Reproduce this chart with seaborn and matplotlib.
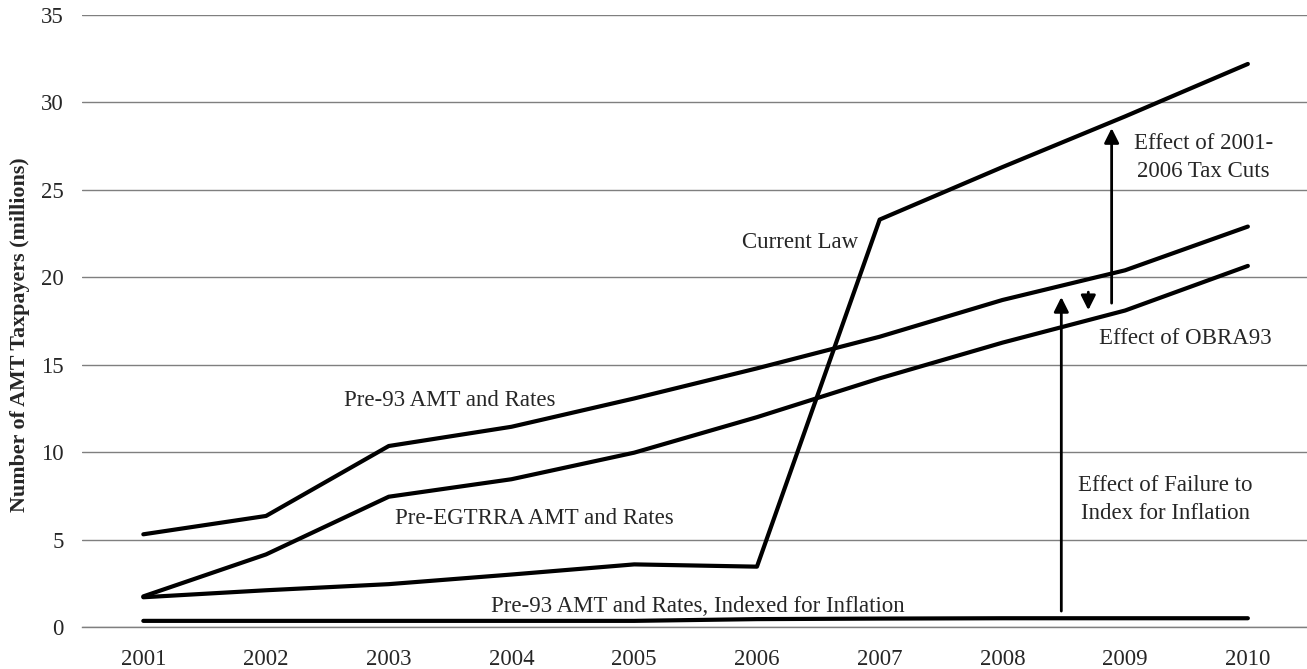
import numpy as np
import matplotlib
matplotlib.use("Agg")
import matplotlib.pyplot as plt
import seaborn as sns

# Dados (milhoes de contribuintes AMT)
years = [2001, 2002, 2003, 2004, 2005, 2006, 2007, 2008, 2009, 2010]
current_law = [1.70, 2.10, 2.45, 3.00, 3.58, 3.45, 23.3, 26.3, 29.2, 32.2]
pre93_rates = [5.30, 6.35, 10.35, 11.45, 13.07, 14.79, 16.6, 18.7, 20.4, 22.9]
pre_egtrra = [1.75, 4.15, 7.45, 8.45, 9.97, 12.0, 14.22, 16.26, 18.1, 20.65]
pre93_indexed = [0.35, 0.35, 0.35, 0.35, 0.35, 0.45, 0.48, 0.5, 0.5, 0.5]

sns.set_style("white")
plt.rcParams["font.family"] = ["Liberation Serif", "DejaVu Serif"]

fig = plt.figure(figsize=(13.07, 6.69), dpi=100)
ax = fig.add_axes([0.0627, 0.0628, 0.939, 0.9148])

x = np.arange(len(years))
for serie in [current_law, pre93_rates, pre_egtrra, pre93_indexed]:
    sns.lineplot(x=x, y=serie, color="black", linewidth=3, ax=ax)

# Eixos
ax.set_xlim(-0.5, len(years) - 0.5)
ax.set_ylim(0, 35)
ax.set_yticks(range(0, 36, 5))
ax.yaxis.grid(True, color="#7f7f7f", linewidth=1)
ax.set_axisbelow(True)
for s in ["top", "right", "left"]:
    ax.spines[s].set_visible(False)
ax.spines["bottom"].set_color("#7f7f7f")
ax.spines["bottom"].set_linewidth(1)

ax.set_xticks(np.arange(-0.5, len(years), 1.0))
ax.set_xticklabels([])
ax.set_xticks(x, minor=True)
ax.set_xticklabels([str(y) for y in years], minor=True)
ax.tick_params(axis="x", which="major", direction="out", length=5, color="#7f7f7f", width=1)
ax.tick_params(axis="x", which="minor", length=0, pad=16, labelsize=16.5)
ax.tick_params(axis="y", length=0, pad=13, labelsize=16.5)

ax.set_ylabel("Number of AMT Taxpayers (millions)", fontsize=15.8, fontweight="bold", va="center")
ax.yaxis.set_label_coords(-0.0505, 0.477)

# Rotulos das series
fs = 16.5
ax.text(5.35, 21.96, "Current Law", fontsize=fs, ha="center", va="center")
ax.text(2.50, 12.98, "Pre-93 AMT and Rates", fontsize=fs, ha="center", va="center")
ax.text(3.19, 6.23, "Pre-EGTRRA AMT and Rates", fontsize=fs, ha="center", va="center")
ax.text(4.52, 1.20, "Pre-93 AMT and Rates, Indexed for Inflation", fontsize=fs, ha="center", va="center")
ax.text(8.64, 26.87, "Effect of 2001-\n2006 Tax Cuts", fontsize=fs, ha="center", va="center",
        multialignment="center", linespacing=1.42)
ax.text(8.49, 16.52, "Effect of OBRA93", fontsize=fs, ha="center", va="center")
ax.text(8.33, 7.29, "Effect of Failure to\nIndex for Inflation", fontsize=fs, ha="center", va="center",
        multialignment="center", linespacing=1.42)

# Setas
arrow = dict(arrowstyle="-|>", color="black", lw=2, mutation_scale=22, shrinkA=0, shrinkB=0)
ax.annotate("", xy=(7.48, 18.87), xytext=(7.48, 0.91), arrowprops=arrow)
ax.annotate("", xy=(7.89, 28.53), xytext=(7.89, 18.52), arrowprops=arrow)
ax.annotate("", xy=(7.70, 18.12), xytext=(7.70, 19.15), arrowprops=arrow)

fig.savefig("out.png", dpi=100)
